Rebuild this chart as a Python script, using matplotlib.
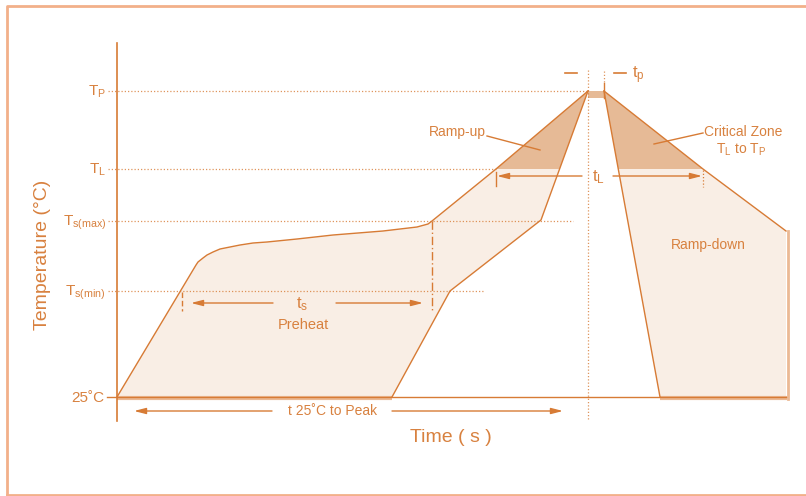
import numpy as np
import matplotlib.pyplot as plt

plt.rcParams['font.family'] = ['Liberation Sans', 'DejaVu Sans']
plt.rcParams['mathtext.default'] = 'regular'

# schematic units (drawing space, y grows downward)
T_25, T_SMIN, T_SMAX, T_L, T_P = 397, 291, 221, 169, 91
LEVEL_LABELS = [r'T$_P$', r'T$_L$', r'T$_{s(max)}$', r'T$_{s(min)}$', '25˚C']
LEVEL_VALUES = [T_P, T_L, T_SMAX, T_SMIN, T_25]
LEVEL_DOT_END = [588, 496, 573, 485]

# upper (slow) profile
outer_t = [117, 196, 198, 203, 207, 213, 220, 230, 240, 253, 267, 297, 333, 383, 417, 428, 432, 496, 588]
outer_T = [397, 265, 262, 258, 255, 252, 249, 247, 245, 243, 242, 239, 235, 231, 227, 224, 221, 169, 91]
# lower (fast) profile
inner_t = [392, 450, 541, 588]
inner_T = [397, 291, 220, 91]
# ramp-down envelope
down_outer_t = [604, 703, 786, 786]
down_outer_T = [91, 169, 231, 397]
down_inner_t = [604, 660]
down_inner_T = [91, 397]

LINE = '#d77b35'
TEXT = '#d8813f'
LIGHT = '#f9eee5'
DARK = '#e6ba96'
BAND = '#ebb994'
FRAME = '#f2b08a'

fig = plt.figure(figsize=(8.06, 4.96), dpi=100)
ax = fig.add_axes([0, 0, 1, 1])
ax.set_xlim(0, 806)
ax.set_ylim(496, 0)
ax.axis('off')

# frame
ax.plot([7, 7, 806], [495, 6, 6], color=FRAME, lw=2)
ax.plot([7, 806], [495, 495], color=FRAME, lw=2)

# light fills
left_x = outer_t + inner_t[::-1]
left_y = outer_T + inner_T[::-1]
ax.fill(left_x, left_y, color=LIGHT, lw=0)
ax.fill(down_outer_t + down_inner_t[::-1], down_outer_T + down_inner_T[::-1],
        color=LIGHT, lw=0)

# critical zone (above T_L)
x_out_l = np.interp(T_L, outer_T[::-1], outer_t[::-1])
x_in_l = np.interp(T_L, inner_T[::-1], inner_t[::-1])
ax.fill([x_out_l, outer_t[-1], x_in_l], [T_L, T_P, T_L], color=DARK, lw=0)
x_out_r = np.interp(T_L, down_outer_T[:3], down_outer_t[:3])
x_in_r = np.interp(T_L, down_inner_T, down_inner_t)
ax.fill([down_outer_t[0], x_out_r, x_in_r], [T_P, T_L, T_L], color=DARK, lw=0)
ax.fill([588, 604, 604, 588], [T_P, T_P, 98, 98], color=DARK, lw=0)

# bottom shading bands
ax.plot([117, 392], [T_25 + 1, T_25 + 1], color=BAND, lw=3, solid_capstyle='butt')
ax.plot([660, 787], [T_25 + 1, T_25 + 1], color=BAND, lw=3, solid_capstyle='butt')
ax.plot([787.5, 787.5], [231, T_25 + 2], color=BAND, lw=2)

# level dotted lines
for lv, xe in zip(LEVEL_VALUES[:4], LEVEL_DOT_END):
    ax.plot([108, xe], [lv, lv], color=LINE, lw=0.9, ls=(0, (1, 1.6)), alpha=0.8)
ax.plot([588, 588], [70, 420], color=LINE, lw=0.9, ls=(0, (1, 1.6)), alpha=0.8)
ax.plot([604, 604], [71, 83], color=LINE, lw=0.9, ls=(0, (1, 1.6)), alpha=0.8)
ax.plot([604, 604], [83, 98], color=LINE, lw=1)

# axes
ax.plot([117, 117], [43, 421], color=LINE, lw=1.2)
ax.plot([107, 786], [T_25, T_25], color=LINE, lw=1)

# profile lines
ax.plot(outer_t, outer_T, color=LINE, lw=1)
ax.plot(inner_t, inner_T, color=LINE, lw=1)
ax.plot(down_outer_t[:3], down_outer_T[:3], color=LINE, lw=1)
ax.plot(down_inner_t, down_inner_T, color=LINE, lw=1)

# level labels
for lab, lv in zip(LEVEL_LABELS, LEVEL_VALUES):
    ax.text(106 if lab != '25˚C' else 104, lv + 5, lab, color=TEXT, fontsize=11,
            ha='right', va='baseline')

ax.text(43, 255, 'Temperature (°C)', color=TEXT, fontsize=14, rotation=90,
        ha='center', va='center')
ax.text(451, 438, 'Time ( s )', color=TEXT, fontsize=14, ha='center', va='center')

def arrow(x0, x1, y):
    ax.annotate('', xy=(x1, y), xytext=(x0, y),
                arrowprops=dict(arrowstyle='-|>,head_length=0.7,head_width=0.18',
                                color=LINE, lw=1, shrinkA=0, shrinkB=0))

# t_p marks
ax.plot([565, 577], [73, 73], color=LINE, lw=1.2)
ax.plot([614, 626], [73, 73], color=LINE, lw=1.2)
ax.text(632, 78, r't$_p$', color=TEXT, fontsize=12, ha='left', va='baseline')

# t_L
ax.plot([496, 496], [172, 186], color=LINE, lw=1)
ax.plot([703, 703], [170, 187], color=LINE, lw=0.9, ls=(0, (1, 1.6)))
arrow(582, 497, 176)
arrow(613, 702, 176)
ax.text(598, 181, r't$_L$', color=TEXT, fontsize=12, ha='center', va='baseline')

# t_s preheat
ax.plot([182, 182], [292, 311], color=LINE, lw=1, ls=(0, (4, 2)))
ax.plot([432, 432], [221, 311], color=LINE, lw=1, ls=(0, (6, 2, 1, 2)))
arrow(273, 191, 303)
arrow(336, 423, 303)
ax.text(302, 308, r't$_s$', color=TEXT, fontsize=12, ha='center', va='baseline')
ax.text(303, 325, 'Preheat', color=TEXT, fontsize=10.5, ha='center', va='center')

# t 25C to peak
arrow(272, 134, 411)
arrow(392, 563, 411)
ax.text(333, 411, 't 25˚C to Peak', color=TEXT, fontsize=10, ha='center', va='center')

# annotations
ax.text(457, 132, 'Ramp-up', color=TEXT, fontsize=10, ha='center', va='center')
ax.plot([487, 540], [136, 150], color=LINE, lw=1)
ax.text(743, 132, 'Critical Zone', color=TEXT, fontsize=10, ha='center', va='center')
ax.text(741, 154, r'T$_L$ to T$_P$', color=TEXT, fontsize=10, ha='center', va='baseline')
ax.plot([703, 654], [133, 144], color=LINE, lw=1)
ax.text(708, 245, 'Ramp-down', color=TEXT, fontsize=10, ha='center', va='center')

fig.savefig('out.png', dpi=100)
